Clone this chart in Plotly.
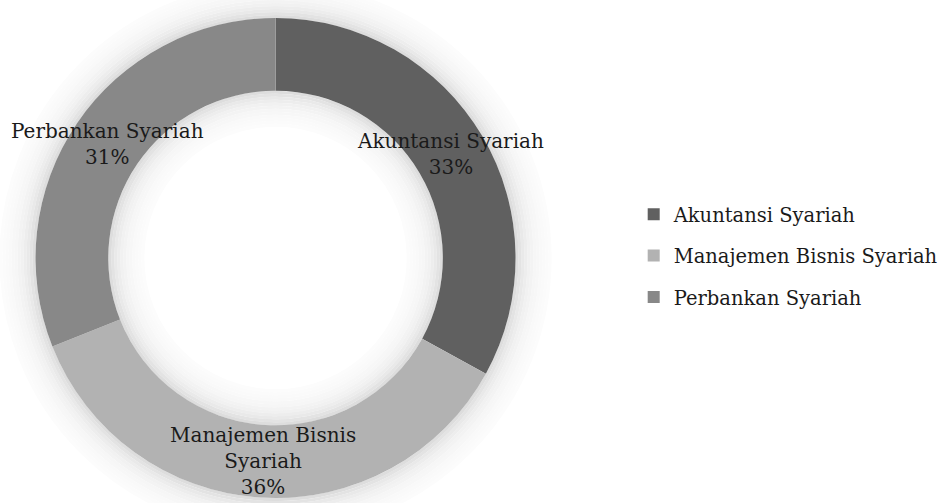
import math
import plotly.graph_objects as go

labels = ["Akuntansi Syariah", "Manajemen Bisnis Syariah", "Perbankan Syariah"]
values = [33, 36, 31]
label_text = ["Akuntansi Syariah<br>33%", "Manajemen Bisnis<br>Syariah<br>36%", "Perbankan Syariah<br>31%"]
colors = ["#606060", "#b2b2b2", "#888888"]

W, H = 943, 503
HOLE = 0.697
FONT = "DejaVu Serif"

# donut placement in paper coordinates
cx, cy = 0.2922, 0.487
rad_px = 240

fig = go.Figure()

# soft glow round the ring (outside and inside the hole)
shapes = []
for k in range(12):
    d = 1.5 + 3 * k
    g = int(round(255 - 38 * math.exp(-d / 14)))
    col = f"rgb({g},{g},{g})"
    for r in (rad_px + d, rad_px * HOLE - d):
        shapes.append(dict(
            type="circle", xref="paper", yref="paper", layer="below",
            x0=cx - r / W, x1=cx + r / W, y0=cy - r / H, y1=cy + r / H,
            line=dict(color=col, width=3.2), fillcolor="rgba(0,0,0,0)",
        ))

fig.add_trace(go.Pie(
    labels=labels,
    values=values,
    hole=HOLE,
    sort=False,
    direction="clockwise",
    rotation=0,
    marker=dict(colors=colors, line=dict(width=0)),
    textinfo="none",
    showlegend=False,
    domain=dict(x=[cx - rad_px / W, cx + rad_px / W], y=[cy - rad_px / H, cy + rad_px / H]),
))

# legend entries as dummy traces so the spacing can be widened
for lab, col in zip(labels, colors):
    fig.add_trace(go.Scatter(
        x=[None], y=[None], mode="markers", name=lab, legendgroup=lab,
        marker=dict(symbol="square", size=12, color=col),
    ))

# labels sit in the middle of the ring at each slice's mid-angle
total = sum(values)
start = 0.0
r_mid = rad_px * (1 + HOLE) / 2
for v, txt in zip(values, label_text):
    mid = (start + v / 2) / total * 2 * math.pi
    start += v
    fig.add_annotation(
        x=cx + r_mid * math.sin(mid) / W,
        y=cy + r_mid * math.cos(mid) / H,
        xref="paper", yref="paper", xanchor="center", yanchor="middle",
        text=txt, showarrow=False,
        font=dict(family=FONT, size=20, color="#1a1a1a"),
        align="center",
    )

fig.update_layout(
    width=W, height=H,
    margin=dict(l=0, r=0, t=0, b=0),
    paper_bgcolor="white",
    plot_bgcolor="rgba(0,0,0,0)",
    xaxis=dict(visible=False),
    yaxis=dict(visible=False),
    shapes=shapes,
    legend=dict(
        x=0.672, y=0.491, xanchor="left", yanchor="middle",
        font=dict(family=FONT, size=19.5, color="#1a1a1a"),
        tracegroupgap=13, itemsizing="constant",
    ),
)

fig.write_html("out.html", config={"displayModeBar": False},
               post_script="document.body.style.margin='0';")
